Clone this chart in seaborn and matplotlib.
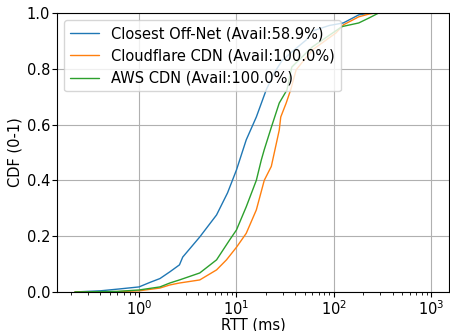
import numpy as np
import pandas as pd
import matplotlib
matplotlib.use("Agg")
import matplotlib.pyplot as plt
import seaborn as sns

# CDF curves (RTT in ms, cumulative fraction)
offnet_rtt = [0.22, 0.4, 0.64, 1.0, 1.29, 1.64, 2.07, 2.6, 2.81, 4.2, 6.25, 8.1, 10, 12.6,
              16, 20.2, 24.4, 29.5, 40, 52, 60, 90, 125, 180, 245, 1000]
offnet_cdf = [0.0, 0.004, 0.011, 0.018, 0.034, 0.048, 0.072, 0.097, 0.125, 0.197, 0.276,
              0.355, 0.437, 0.545, 0.627, 0.724, 0.785, 0.83, 0.87, 0.903, 0.935, 0.955,
              0.964, 0.993, 1.0, 1.0]

cloudflare_rtt = [0.22, 0.6, 1.0, 1.64, 2.07, 2.6, 4.2, 6.25, 7.9, 10, 12.6, 16, 19.3,
                  22.8, 27.5, 28.5, 32.4, 36, 41, 60, 105, 125, 180, 230, 270, 1000]
cloudflare_cdf = [0.0, 0.001, 0.004, 0.014, 0.025, 0.032, 0.043, 0.079, 0.115, 0.16, 0.21,
                  0.294, 0.40, 0.45, 0.58, 0.627, 0.677, 0.724, 0.796, 0.867, 0.928, 0.957,
                  0.986, 0.996, 1.0, 1.0]

aws_rtt = [0.22, 0.6, 1.0, 1.64, 2.07, 2.6, 4.2, 6.25, 8.5, 10, 12.6, 16, 18, 19.3, 22.8,
           27.5, 33, 37, 60, 120, 125, 180, 230, 290, 1000]
aws_cdf = [0.0, 0.002, 0.007, 0.018, 0.032, 0.043, 0.068, 0.115, 0.186, 0.222, 0.305,
           0.40, 0.473, 0.51, 0.59, 0.677, 0.724, 0.806, 0.878, 0.95, 0.952, 0.964,
           0.982, 1.0, 1.0]

labels = ["Closest Off-Net (Avail:58.9%)",
          "Cloudflare CDN (Avail:100.0%)",
          "AWS CDN (Avail:100.0%)"]

df = pd.concat([
    pd.DataFrame({"rtt": offnet_rtt, "cdf": offnet_cdf, "src": labels[0]}),
    pd.DataFrame({"rtt": cloudflare_rtt, "cdf": cloudflare_cdf, "src": labels[1]}),
    pd.DataFrame({"rtt": aws_rtt, "cdf": aws_cdf, "src": labels[2]}),
])

sns.set_style("ticks")
plt.rcParams["font.family"] = ["DejaVu Sans"]
plt.rcParams["font.size"] = 10
for k in ["text.color", "axes.labelcolor", "xtick.color", "ytick.color", "axes.edgecolor"]:
    plt.rcParams[k] = "black"

fig, ax = plt.subplots(figsize=(4.5, 3.31), dpi=100)
fig.subplots_adjust(left=0.127, right=0.998, top=0.961, bottom=0.118)

sns.lineplot(data=df, x="rtt", y="cdf", hue="src", hue_order=labels,
             palette=["#1f77b4", "#ff7f0e", "#2ca02c"], linewidth=1.0,
             sort=False, estimator=None, ax=ax)

ax.set_xscale("log")
ax.set_ylim(0, 1)
ax.set_xlabel("RTT (ms)", fontsize=10.5)
ax.set_ylabel("CDF (0-1)", fontsize=10.5, labelpad=3)
ax.xaxis.set_label_coords(0.5, -0.09)
ax.tick_params(labelsize=10.5, which="major", length=3.5, pad=1.5)
ax.tick_params(which="minor", length=2)
ax.grid(True, which="major", color="#b0b0b0", linewidth=0.8)
for s in ax.spines.values():
    s.set_visible(True)
ax.legend(loc="upper left", title=None, framealpha=0.8, fontsize=10.5)

fig.savefig("out.png", dpi=100)
